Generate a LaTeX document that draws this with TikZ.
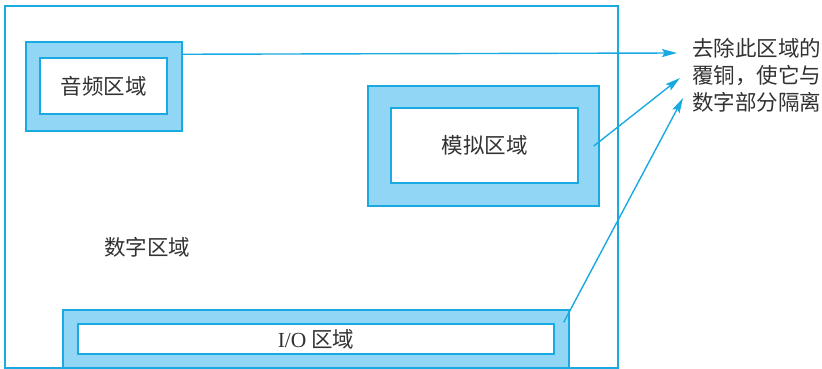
\documentclass[tikz,border=0pt]{standalone}
\usepackage{fontspec}
\setmainfont{Liberation Serif}
\newfontfamily\cjk{Noto Sans CJK SC}
\newfontfamily\lat{Liberation Serif}
\usetikzlibrary{positioning,arrows.meta}
\definecolor{myline}{RGB}{25,170,225}
\definecolor{myfill}{RGB}{146,214,245}
\definecolor{mytext}{RGB}{50,50,50}

\begin{document}
\begin{tikzpicture}[x=1pt,y=-1pt,
  pcb/.style={draw=myline,line width=1.2pt,inner sep=0pt,
    minimum width=613pt,minimum height=362pt},
  outbox/.style={draw=myline,fill=myfill,line width=1.5pt,inner sep=0pt},
  inbox/.style={draw=myline,fill=white,line width=1.5pt,inner sep=0pt,
    text=mytext,font=\cjk\fontsize{21.5}{27}\selectfont},
  note/.style={text=mytext,inner sep=0pt,align=left,
    font=\cjk\fontsize{21.5}{27}\selectfont},
  toarrow/.style={draw=myline,line width=1.4pt,
    -{Stealth[length=15pt,width=8pt,inset=2.5pt]}}]

  \useasboundingbox (0,0) rectangle (822,369);

  \node[pcb] (board) at (311.5,187) {};

  \node[outbox,minimum width=156pt,minimum height=89pt] (audout) at (104,86.5) {};
  \node[inbox,minimum width=127pt,minimum height=56pt] (audin) at (103.5,86) {音频区域};

  \node[outbox,minimum width=231pt,minimum height=120pt] (anaout) at (483.5,146) {};
  \node[inbox,minimum width=187pt,minimum height=75pt] (anain) at (484.5,145.5) {模拟区域};

  \node[outbox,minimum width=506pt,minimum height=58pt] (ioout) at (316,339) {};
  \node[inbox,minimum width=476pt,minimum height=30pt] (ioin) at (ioout) {{\lat I/O} 区域};

  \node[note] (dig) at (147,247) {数字区域};
  \node[note,anchor=west] (cut) at (692,75) {去除此区域的\\覆铜，使它与\\数字部分隔离};

  \coordinate (t1) at (677,53);
  \coordinate (t2) at (680,78);
  \coordinate (t3) at (683,98);
  \draw[toarrow] ([yshift=-13pt]audout.north east) -- (t1);
  \draw[toarrow] ([xshift=-6pt]anaout.east) -- (t2);
  \draw[toarrow] ([shift={(-6pt,-13pt)}]ioout.north east) -- (t3);
\end{tikzpicture}
\end{document}
